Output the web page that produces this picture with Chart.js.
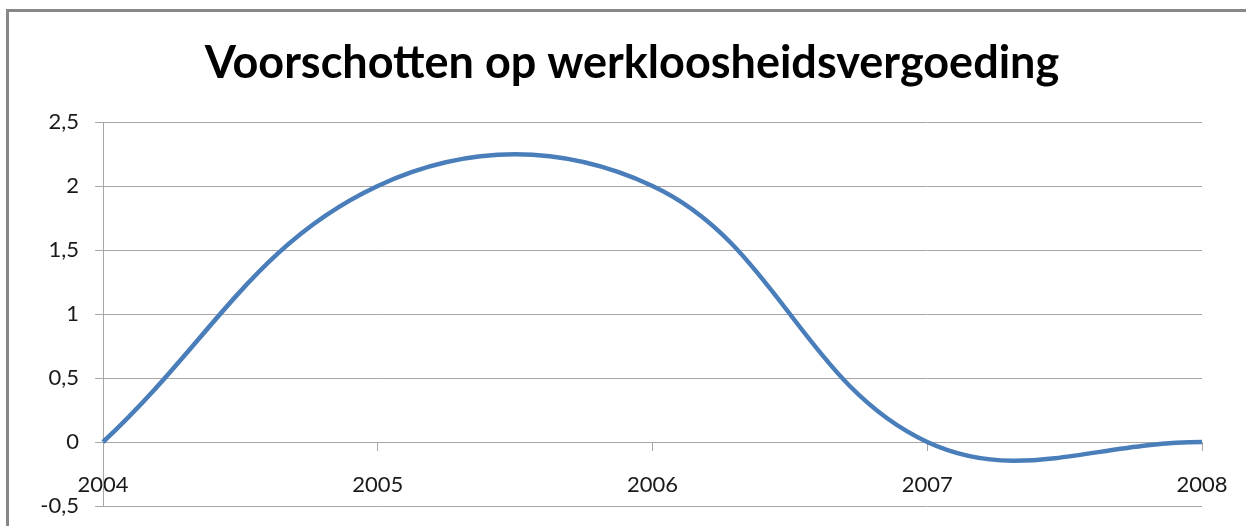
<!DOCTYPE html>
<html>
<head>
<meta charset="utf-8">
<style>
  html, body { margin: 0; padding: 0; background: #fff; }
  #wrap { position: relative; width: 1246px; height: 526px; }
</style>
<script src="https://cdn.jsdelivr.net/npm/chart.js@4/dist/chart.umd.min.js"></script>
</head>
<body>
<div id="wrap"><canvas id="chart"></canvas></div>
<script>
  const chartTitle = 'Voorschotten op werkloosheidsvergoeding';
  const years = ['2004', '2005', '2006', '2007', '2008'];
  const advances = [0, 2, 2, 0, 0];
  const yMin = -0.5;
  const yMax = 2.5;
  const yStep = 0.5;

  const gridGray = '#a6a6a6';
  const textColor = '#1a1a1a';

  // frame of the chart object and the title, Excel style
  const frameAndTitle = {
    id: 'frameAndTitle',
    beforeDraw(chart) {
      const ctx = chart.ctx;
      ctx.save();
      ctx.fillStyle = '#fff';
      ctx.fillRect(0, 0, chart.width, chart.height);
      ctx.strokeStyle = '#878787';
      ctx.lineWidth = 3;
      ctx.beginPath();
      ctx.moveTo(7.5, chart.height);
      ctx.lineTo(7.5, 10.5);
      ctx.lineTo(chart.width, 10.5);
      ctx.stroke();
      ctx.restore();
    },
    afterDraw(chart) {
      const ctx = chart.ctx;
      ctx.save();
      ctx.font = 'bold 45px Lato, "Open Sans", sans-serif';
      ctx.fillStyle = '#000';
      ctx.textAlign = 'center';
      ctx.textBaseline = 'alphabetic';
      ctx.fillText(chartTitle, 632, 78);
      ctx.restore();
    }
  };

  new Chart(document.getElementById('chart'), {
    type: 'line',
    data: {
      labels: years,
      datasets: [{
        data: advances,
        borderColor: '#4a7ebb',
        borderWidth: 4.5,
        tension: 0.39,
        pointRadius: 0,
        fill: false
      }]
    },
    options: {
      responsive: true,
      maintainAspectRatio: false,
      animation: false,
      layout: { padding: { top: 122, right: 44, bottom: 20, left: 0 } },
      plugins: { legend: { display: false }, title: { display: false }, tooltip: { enabled: false } },
      scales: {
        x: {
          type: 'category',
          position: { y: 0 },
          offset: false,
          // axis sits on the zero line, it should not take room below the plot
          afterFit(scale) {
            scale.height = 0;
            scale.paddingRight = 0;
          },
          grid: { drawOnChartArea: false, drawTicks: true, tickLength: 8, color: gridGray },
          border: { display: true, color: gridGray, width: 1 },
          ticks: {
            color: textColor,
            font: { family: 'Lato, "Open Sans", sans-serif', size: 22 },
            padding: 22,
            maxRotation: 0,
            autoSkip: false
          }
        },
        y: {
          min: yMin,
          max: yMax,
          afterFit(scale) {
            scale.width = 103;
            // label padding is horizontal only, keep the plot down to the bottom
            scale.paddingBottom = 0;
          },
          grid: { color: gridGray, lineWidth: 1, tickLength: 8 },
          border: { display: true, color: gridGray, width: 1 },
          ticks: {
            stepSize: yStep,
            color: textColor,
            font: { family: 'Lato, "Open Sans", sans-serif', size: 22 },
            padding: 16,
            callback: (v) => String(Math.round(v * 10) / 10).replace('.', ',')
          }
        }
      }
    },
    plugins: [frameAndTitle]
  });
</script>
</body>
</html>
